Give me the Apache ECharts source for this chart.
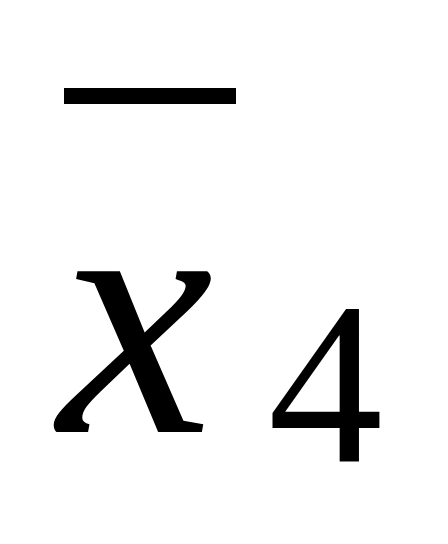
<!DOCTYPE html>
<html style="height: 100%">
<head>
  <meta charset="utf-8">
</head>
<body style="height: 100%; margin: 0; background: #fff">
  <div id="container" style="width: 448px; height: 544px"></div>
  <script src="https://cdn.jsdelivr.net/npm/echarts/dist/echarts.min.js"></script>
  <script>
    // symbol parts
    var mainSymbol = 'x';
    var subscript = '4';

    var chart = echarts.init(document.getElementById('container'));
    chart.setOption({
      backgroundColor: '#fff',
      graphic: [
        {
          type: 'rect',
          shape: { x: 64, y: 88, width: 172, height: 16 },
          style: { fill: '#000' }
        },
        {
          type: 'text',
          x: 58, y: 515,
          style: {
            text: mainSymbol,
            fontSize: 350,
            fontStyle: 'italic',
            fontFamily: 'Liberation Serif',
            fill: '#000',
            verticalAlign: 'bottom'
          }
        },
        {
          type: 'text',
          x: 268, y: 516,
          style: {
            text: subscript,
            fontSize: 230,
            fontFamily: 'Liberation Serif',
            fill: '#000',
            verticalAlign: 'bottom'
          }
        }
      ]
    });
  </script>
</body>
</html>
